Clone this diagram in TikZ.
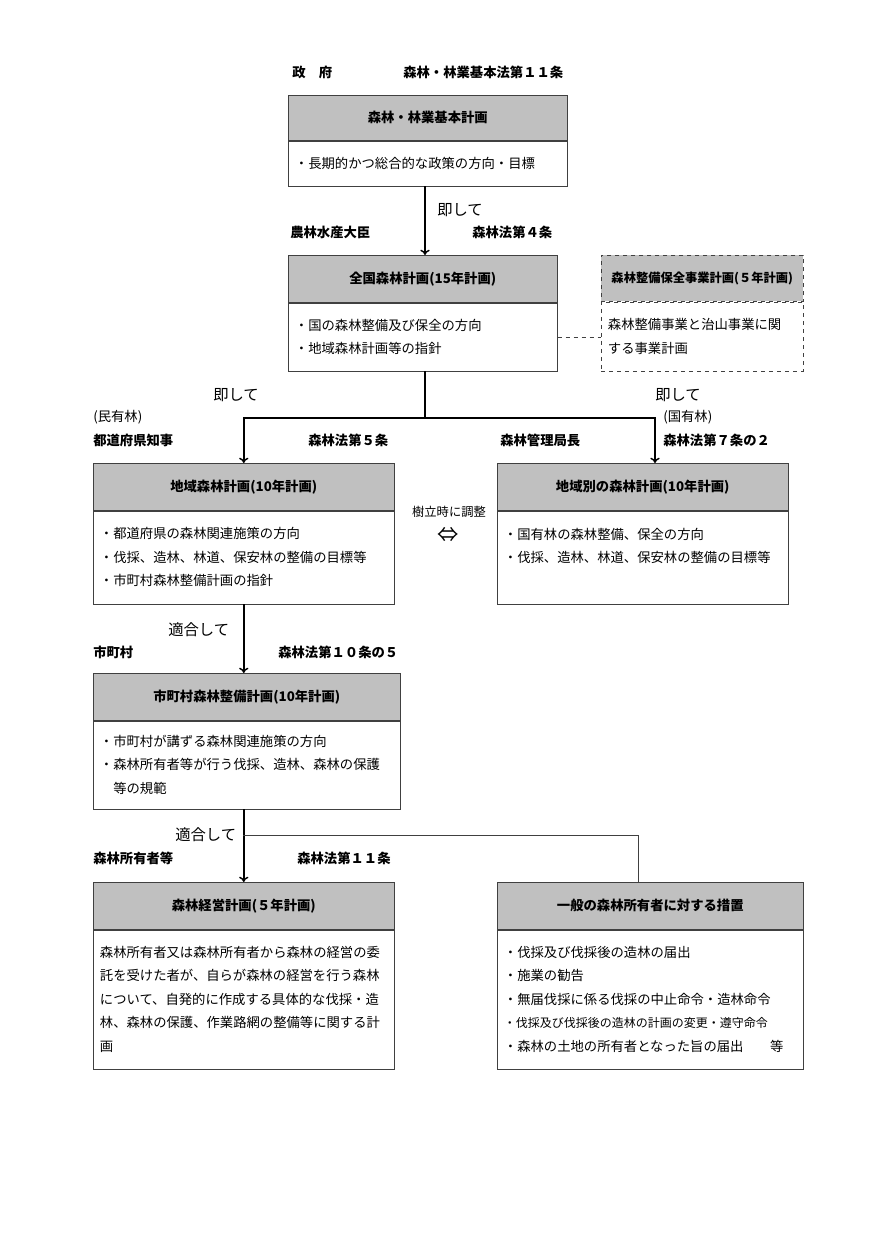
\documentclass[tikz,border=0pt]{standalone}
\usepackage{fontspec}
\setmainfont{Noto Sans CJK JP}
\usepackage{tikz}
\usetikzlibrary{positioning, arrows.meta}
\usepackage{xcolor}
\definecolor{headgray}{HTML}{C0C0C0}
\definecolor{boxline}{HTML}{404040}

\begin{document}
\begin{tikzpicture}[
    x=0.75pt, y=-0.75pt,
    head/.style={draw=boxline, fill=headgray, anchor=north west, inner sep=0pt, font=\bfseries\fontsize{10}{12}\selectfont},
    body/.style={draw=boxline, fill=white, align=left, inner xsep=5pt, inner ysep=0pt, font=\fontsize{10}{17.6}\selectfont},
    lbl/.style={anchor=west, inner sep=0pt, font=\bfseries\fontsize{10}{12}\selectfont},
    note/.style={anchor=west, inner sep=0pt, font=\fontsize{11.5}{14}\selectfont},
    link/.style={line width=1.1pt, -{To[length=4pt, width=7pt]}},
]
\useasboundingbox (0,0) rectangle (874,1236);

% Government
\node[lbl] (gov) at (292,72) {政　府};
\node[lbl] (law1) at (403,72) {森林・林業基本法第１１条};
\node[head, minimum width=209.25pt, minimum height=33.75pt] (h1) at (288,95) {森林・林業基本計画};
\node[body, text width=199.25pt, minimum height=33.75pt, below=0pt of h1] (b1) {・長期的かつ総合的な政策の方向・目標};

% National plan
\node[note] (sokushi1) at (437,210) {即して};
\node[lbl] (minister) at (290,232) {農林水産大臣};
\node[lbl] (law4) at (472,232) {森林法第４条};
\node[head, minimum width=201.75pt, minimum height=35.25pt] (h2) at (288,255) {全国森林計画(15年計画)};
\node[body, text width=191.75pt, minimum height=51pt, below=0pt of h2] (b2) {・国の森林整備及び保全の方向\\・地域森林計画等の指針};

\node[head, dashed, minimum width=151.5pt, minimum height=34.5pt, font=\bfseries\fontsize{9.2}{11}\selectfont] (d1) at (601,255) {森林整備保全事業計画(５年計画)};
\node[body, dashed, text width=141.5pt, minimum height=51.75pt, below=0pt of d1] (d2) {森林整備事業と治山事業に関\\する事業計画};

% Regional plans
\node[note] (sokushi2) at (213,395) {即して};
\node[note] (sokushi3) at (655,395) {即して};
\node[anchor=west, inner sep=0pt, font=\fontsize{10}{12}\selectfont] (private) at (93,417) {(民有林)};
\node[anchor=west, inner sep=0pt, font=\fontsize{10}{12}\selectfont] (national) at (663,417) {(国有林)};
\node[lbl] (governor) at (93,440) {都道府県知事};
\node[lbl] (law5) at (308,440) {森林法第５条};
\node[lbl] (bureau) at (500,440) {森林管理局長};
\node[lbl] (law7) at (663,440) {森林法第７条の２};

\node[head, minimum width=225.75pt, minimum height=35.25pt] (h3) at (93,463) {地域森林計画(10年計画)};
\node[body, text width=215.75pt, minimum height=69.75pt, below=0pt of h3] (b3) {・都道府県の森林関連施策の方向\\・伐採、造林、林道、保安林の整備の目標等\\・市町村森林整備計画の指針};
\node[head, minimum width=218.25pt, minimum height=35.25pt] (h4) at (497,463) {地域別の森林計画(10年計画)};
\node[body, text width=208.25pt, minimum height=69.75pt, below=0pt of h4] (b4) {・国有林の森林整備、保全の方向\\・伐採、造林、林道、保安林の整備の目標等\\\mbox{}};

\node[inner sep=0pt, font=\fontsize{9.2}{11}\selectfont] (adjust) at (449,512) {樹立時に調整};
\node[inner sep=0pt, font=\fontsize{16}{16}\selectfont] (both) at (448,535) {⇔};

% Municipal plan
\node[note] (tekigo1) at (168,630) {適合して};
\node[lbl] (town) at (93,652) {市町村};
\node[lbl] (law10) at (278,652) {森林法第１０条の５};
\node[head, minimum width=230.25pt, minimum height=35.25pt] (h5) at (93,673) {市町村森林整備計画(10年計画)};
\node[body, text width=220.25pt, minimum height=66pt, below=0pt of h5] (b5) {・市町村が講ずる森林関連施策の方向\\・森林所有者等が行う伐採、造林、森林の保護\\\hphantom{・}等の規範};

% Owners
\node[note] (tekigo2) at (175,835) {適合して};
\node[lbl] (owner) at (93,858) {森林所有者等};
\node[lbl] (law11) at (297,858) {森林法第１１条};
\node[head, minimum width=225.75pt, minimum height=35.25pt] (h6) at (93,882) {森林経営計画(５年計画)};
\node[body, text width=215.75pt, minimum height=104.25pt, below=0pt of h6] (b6) {森林所有者又は森林所有者から森林の経営の委\\託を受けた者が、自らが森林の経営を行う森林\\について、自発的に作成する具体的な伐採・造\\林、森林の保護、作業路網の整備等に関する計\\画};
\node[head, minimum width=229.5pt, minimum height=35.25pt] (h7) at (497,882) {一般の森林所有者に対する措置};
\node[body, text width=219.5pt, minimum height=104.25pt, below=0pt of h7] (b7) {・伐採及び伐採後の造林の届出\\・施業の勧告\\・無届伐採に係る伐採の中止命令・造林命令\\{\fontsize{9}{17.6}\selectfont ・伐採及び伐採後の造林の計画の変更・遵守命令}\\・森林の土地の所有者となった旨の届出　　等};

% Connectors
\coordinate (split) at (425,418);
\coordinate (k4) at (655,463);
\coordinate (fork) at (243,835);
\coordinate (k7) at (638,882);

\draw[link] (b1.south -| 425,0) -- (h2.north -| 425,0);
\draw[line width=1.1pt] (b2.south -| split) -- (split);
\draw[link] (split) -| (h3.north);
\draw[link] (split) -| (k4);
\draw[dashed, boxline] (b2.east) -- (b2.east -| d2.west);
\draw[link] (b3.south) -- (b3.south |- h5.north);
\draw[link] (b5.south -| h6.north) -- (h6.north);
\draw[boxline] (fork) -| (k7);

\end{tikzpicture}
\end{document}
